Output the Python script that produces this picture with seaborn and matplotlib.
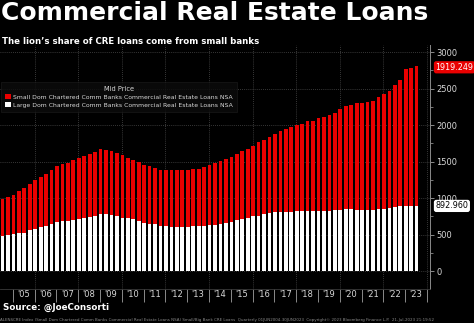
import matplotlib
matplotlib.use("Agg")
import matplotlib.pyplot as plt
from matplotlib.patches import Patch
import pandas as pd
import seaborn as sns

# Quarterly observations, 2004Q2 .. 2023Q2 (USD bn)
quarters = [f"{y}Q{q}" for y in range(2004, 2024) for q in range(1, 5)][1:-2]

small_banks = [
    510, 523, 543, 578, 610, 638, 663, 690, 720, 735,
    767, 788, 800, 819, 828, 842, 866, 879, 888, 882,
    874, 865, 852, 831, 820, 804, 792, 784, 777, 767,
    765, 770, 775, 775, 780, 781, 788, 801, 824, 842,
    858, 870, 892, 893, 924, 943, 970, 1007, 1015, 1043,
    1076, 1107, 1137, 1156, 1186, 1197, 1233, 1239, 1270, 1279,
    1316, 1330, 1379, 1411, 1430, 1456, 1466, 1475, 1493, 1534,
    1580, 1611, 1675, 1738, 1875, 1897, 1919.249,
]

large_banks = [
    483, 492, 505, 515, 528, 560, 580, 598, 615, 645,
    667, 683, 685, 697, 720, 733, 742, 751, 788, 780,
    770, 756, 733, 722, 708, 690, 665, 650, 640, 622,
    615, 610, 605, 605, 605, 612, 615, 624, 633, 638,
    645, 660, 670, 705, 715, 733, 751, 760, 788, 797,
    805, 810, 812, 815, 818, 820, 820, 824, 824, 829,
    829, 833, 843, 847, 847, 843, 838, 838, 843, 847,
    852, 862, 875, 885, 888, 890, 892.960,
]

year_labels = ["'05", "'06", "'07", "'08", "'09", "'10", "'11", "'12", "'13",
               "'14", "'15", "'16", "'17", "'18", "'19", "'20", "'21", "'22", "'23"]

y_ticks = [0, 500, 1000, 1500, 2000, 2500, 3000]

RED = "#ea0000"
WHITE = "#ffffff"
GRID = "#4a4a4a"
AXIS = "#8a8a8a"
TEXT = "#d8d8d8"

df = pd.DataFrame({"quarter": quarters, "small": small_banks, "large": large_banks})
df["total"] = df["small"] + df["large"]

sns.set_style("dark")
plt.rcParams["font.family"] = ["DejaVu Sans"]

fig = plt.figure(figsize=(4.74, 3.23), dpi=100, facecolor="black")
ax = fig.add_axes([0.0, 0.105, 0.907, 0.756])
ax.set_facecolor("black")

# stacked bars: small banks on top of large banks
sns.barplot(data=df, x="quarter", y="total", color=RED, saturation=1,
            width=0.68, linewidth=0, errorbar=None, ax=ax, zorder=2)
sns.barplot(data=df, x="quarter", y="large", color=WHITE, saturation=1,
            width=0.68, linewidth=0, errorbar=None, ax=ax, zorder=3)

ax.set_xlim(-0.46, 78.44)
ax.set_ylim(-247, 3100)
ax.set_xlabel("")
ax.set_ylabel("")

# year separators and centred year labels
seps = [4 * k + 1.9 for k in range(len(year_labels) + 1)]
centers = [4 * k + 3.9 for k in range(len(year_labels))]
ax.set_xticks(seps)
ax.set_xticklabels([""] * len(seps))
ax.set_xticks(centers, minor=True)
ax.set_xticklabels(year_labels, minor=True)
ax.tick_params(axis="x", which="major", direction="out", length=9, width=0.7,
               color=AXIS, bottom=True)
ax.tick_params(axis="x", which="minor", length=0, pad=1.0, labelsize=6,
               labelcolor=TEXT)

# dotted grid
for k in range(1, len(seps), 2):
    ax.axvline(seps[k], color=GRID, lw=0.6, ls=(0, (1, 1.5)), zorder=0)
for v in y_ticks:
    ax.axhline(v, color=GRID, lw=0.6, ls=(0, (1, 1.5)), zorder=0)
ax.grid(False)

# value axis on the right
ax.yaxis.tick_right()
ax.set_yticks(y_ticks)
ax.set_yticklabels([str(v) for v in y_ticks])
ax.set_yticks([v + 250 for v in y_ticks[:-1]], minor=True)
ax.tick_params(axis="y", which="major", direction="out", length=3, width=0.7,
               color=AXIS, labelsize=6, labelcolor=TEXT, pad=1.5, right=True)
ax.tick_params(axis="y", which="minor", direction="out", length=1.8, width=0.6,
               color=AXIS, right=True)

for side in ["left", "top"]:
    ax.spines[side].set_visible(False)
ax.spines["right"].set_color(AXIS)
ax.spines["right"].set_linewidth(0.7)
ax.spines["bottom"].set_color("#3a3a3a")
ax.spines["bottom"].set_linewidth(0.6)

# last-value tags
ax.annotate(f"{small_banks[-1]:.3f}", xy=(1, df["total"].iloc[-1]),
            xycoords=("axes fraction", "data"), xytext=(4, -1),
            textcoords="offset points", ha="left", va="center", fontsize=5.8,
            color="white", annotation_clip=False,
            bbox=dict(boxstyle="round,pad=0.2,rounding_size=0.3", fc=RED, ec="none"))
ax.annotate(f"{large_banks[-1]:.3f}", xy=(1, large_banks[-1]),
            xycoords=("axes fraction", "data"), xytext=(4, 0),
            textcoords="offset points", ha="left", va="center", fontsize=5.8,
            color="black", annotation_clip=False,
            bbox=dict(boxstyle="round,pad=0.2,rounding_size=0.3", fc=WHITE, ec="none"))

# legend
handles = [
    Patch(facecolor=RED, edgecolor="none",
          label="Small Dom Chartered Comm Banks Commercial Real Estate Loans NSA"),
    Patch(facecolor=WHITE, edgecolor="none",
          label="Large Dom Chartered Comm Banks Commercial Real Estate Loans NSA"),
]
leg = fig.legend(handles=handles, title="Mid Price", loc="upper left",
                 bbox_to_anchor=(0.002, 1 - 82 / 323), fontsize=4.4,
                 title_fontsize=4.8, frameon=True, facecolor="#0c0c0c",
                 edgecolor="#1e1e1e", handlelength=0.9, handleheight=0.9,
                 handletextpad=0.35, labelspacing=0.35, borderpad=0.7,
                 borderaxespad=0, fancybox=False)
leg.get_frame().set_linewidth(0.5)
leg.get_title().set_color(TEXT)
for t in leg.get_texts():
    t.set_color(TEXT)

# headings and footnotes
fig.text(0.002, 0.997, "Commercial Real Estate Loans", color="white",
         fontsize=18, fontweight="bold", ha="left", va="top")
fig.text(0.004, 0.885, "The lion\u2019s share of CRE loans come from small banks",
         color="white", fontsize=6.2, fontweight="bold", ha="left", va="top")
fig.text(0.006, 0.062, "Source: @JoeConsorti", color="white", fontsize=6.3,
         fontweight="bold", ha="left", va="top")
fig.text(0.0, 0.004,
         "ALENSCRE Index (Small Dom Chartered Comm Banks Commercial Real Estate Loans NSA) "
         "Small/Big Bank CRE Loans  Quarterly 01JUN2004-30JUN2023  Copyright\u00a9 2023 "
         "Bloomberg Finance L.P.  21-Jul-2023 21:19:52",
         color="#8a8a8a", fontsize=2.9, ha="left", va="bottom")

fig.savefig("out.png", dpi=100, facecolor="black")
